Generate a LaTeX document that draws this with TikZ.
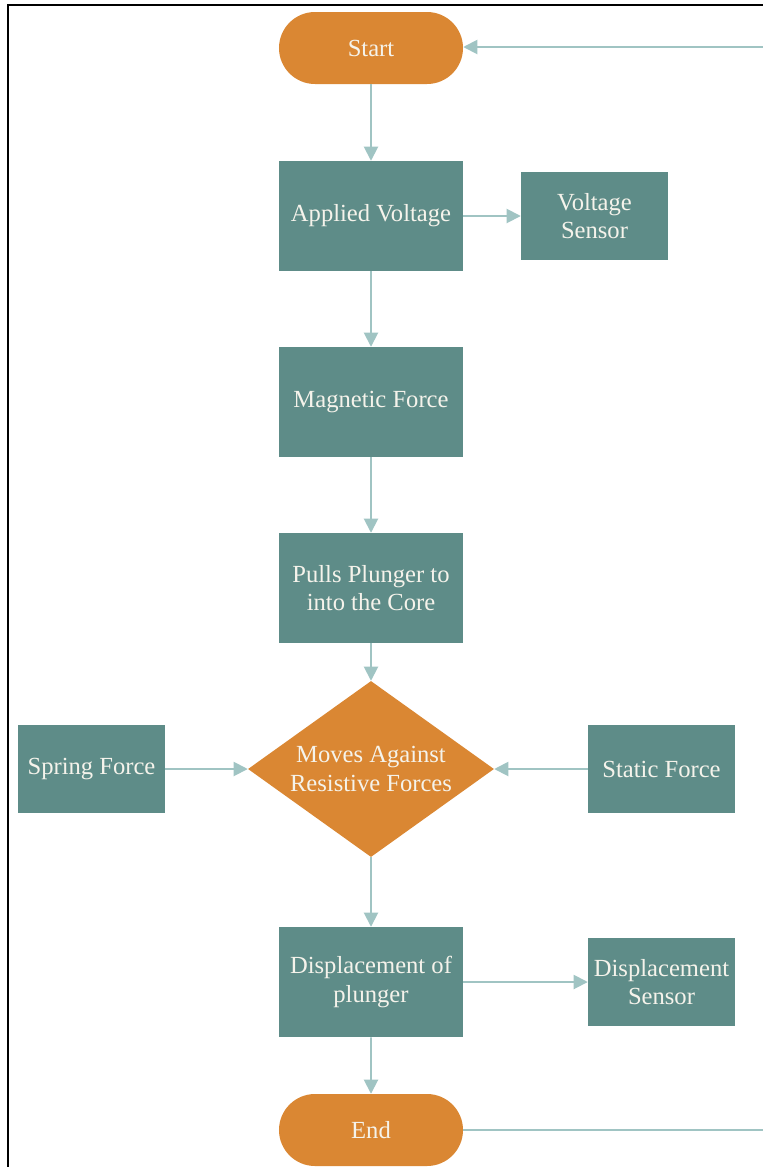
\documentclass[tikz,border=0pt]{standalone}
\usepackage{fontspec}
\setmainfont{Liberation Serif}
\usepackage{tikz}
\usetikzlibrary{
  positioning,
  shapes.misc,
  shapes.geometric,
  arrows.meta
}
\usepackage{xcolor}
\definecolor{boxteal}{RGB}{94,140,136}
\definecolor{termorange}{RGB}{218,135,51}
\definecolor{linkteal}{RGB}{160,196,195}
\definecolor{textwhite}{RGB}{245,243,235}

\tikzset{
  terminal/.style={rounded rectangle,fill=termorange,text=textwhite,
    minimum width=5.52cm,minimum height=2.16cm,inner sep=0pt},
  process/.style={rectangle,fill=boxteal,text=textwhite,align=center,
    minimum width=5.52cm,minimum height=3.3cm,inner sep=0pt},
  sensorbox/.style={rectangle,fill=boxteal,text=textwhite,align=center,
    minimum width=4.41cm,minimum height=2.64cm,inner sep=0pt},
  decision/.style={diamond,fill=termorange,text=textwhite,align=center,
    shape aspect=1.4,minimum width=7.38cm,minimum height=5.28cm,inner sep=0pt},
  link/.style={draw=linkteal,line width=1.6pt}
}

\begin{document}
\begin{tikzpicture}[x=0.03cm,y=-0.03cm,>={Triangle[length=12pt,width=12pt]},
  font=\rmfamily\fontsize{21}{24}\selectfont]
            \useasboundingbox (0,0) rectangle (763,1167);
            \draw[black,line width=1.2pt] (8,1167) -- (8,5) -- (763,5);
            % nodes
            \node[terminal] (start) at (371,48) {Start};
            \node[process] (applied) at (371,216) {Applied Voltage};
            \node[sensorbox] (vsensor) at (594.5,216) {Voltage\\Sensor};
            \node[process] (magforce) at (371,402) {Magnetic Force};
            \node[process] (pulls) at (371,588) {Pulls Plunger to\\into the Core};
            \node[decision] (moves) at (371,769) {Moves Against\\Resistive Forces};
            \node[sensorbox] (spring) at (91.5,769) {Spring Force};
            \node[sensorbox] (static) at (661.5,769) {Static Force};
            \node[process] (displ) at (371,982) {Displacement of\\plunger};
            \node[sensorbox] (dsensor) at (661.5,982) {Displacement\\Sensor};
            \node[terminal] (stop) at (371,1130) {End};
            \coordinate (backin) at (763,47);
            \coordinate (backout) at (763,1130);
            % connectors
            \draw[link,->] (start) -- (applied);
            \draw[link,->] (applied) -- (vsensor);
            \draw[link,->] (applied) -- (magforce);
            \draw[link,->] (magforce) -- (pulls);
            \draw[link,->] (pulls) -- (moves);
            \draw[link,->] (spring) -- (moves);
            \draw[link,->] (static) -- (moves);
            \draw[link,->] (moves) -- (displ);
            \draw[link,->] (displ) -- (dsensor);
            \draw[link,->] (displ) -- (stop);
            \draw[link] (stop) -- (backout);
            \draw[link,->] (backin) -- (start.east |- backin);
        \end{tikzpicture}
\end{document}
